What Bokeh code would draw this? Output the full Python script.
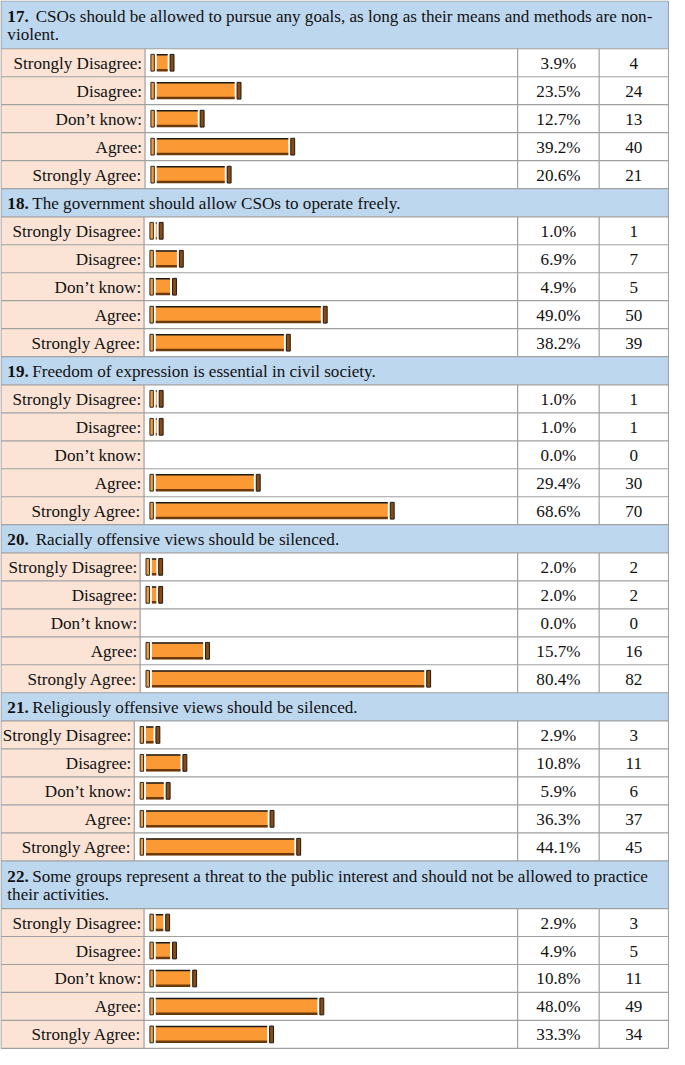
from bokeh.plotting import figure
from bokeh.models import Range1d
from bokeh.embed import file_html
from bokeh.resources import INLINE
from bokeh.core.properties import value

# ---------------- data ----------------
numbers = ["17.", "18.", "19.", "20.", "21.", "22."]
questions = [
    ["CSOs should be allowed to pursue any goals, as long as their means and methods are non-", "violent."],
    ["The government should allow CSOs to operate freely."],
    ["Freedom of expression is essential in civil society."],
    ["Racially offensive views should be silenced."],
    ["Religiously offensive views should be silenced."],
    ["Some groups represent a threat to the public interest and should not be allowed to practice", "their activities."],
]
double_space = [True, False, False, True, False, False]
categories = ["Strongly Disagree:", "Disagree:", "Don\u2019t know:", "Agree:", "Strongly Agree:"]
pct_17 = [3.9, 23.5, 12.7, 39.2, 20.6]
cnt_17 = [4, 24, 13, 40, 21]
pct_18 = [1.0, 6.9, 4.9, 49.0, 38.2]
cnt_18 = [1, 7, 5, 50, 39]
pct_19 = [1.0, 1.0, 0.0, 29.4, 68.6]
cnt_19 = [1, 1, 0, 30, 70]
pct_20 = [2.0, 2.0, 0.0, 15.7, 80.4]
cnt_20 = [2, 2, 0, 16, 82]
pct_21 = [2.9, 10.8, 5.9, 36.3, 44.1]
cnt_21 = [3, 11, 6, 37, 45]
pct_22 = [2.9, 4.9, 10.8, 48.0, 33.3]
cnt_22 = [3, 5, 11, 49, 34]
pcts = [pct_17, pct_18, pct_19, pct_20, pct_21, pct_22]
cnts = [cnt_17, cnt_18, cnt_19, cnt_20, cnt_21, cnt_22]

# ---------------- layout (reference pixel units) ----------------
label_edges = [148, 147, 147, 143, 137, 147]
X_LEFT, X_RIGHT = 0.5, 684.0
X_PCT, X_CNT = 529.5, 613.0
ROW_H, HDR1, HDR2 = 28.4, 28.6, 48.5
PX_PER_PCT = 3.5

FONT = value("Liberation Serif")
FS = "17.1px"
BLUE = "#BDD7EE"
PEACH = "#FBE4D5"
ORANGE = "#FB9A35"
GRID = "#A0A0A0"

p = figure(width=669, height=1049, x_range=Range1d(0, 685), y_range=Range1d(1065, 0),
           output_backend="svg", toolbar_location=None, min_border=0,
           x_axis_type=None, y_axis_type=None)
p.grid.visible = False
p.outline_line_color = None
p.background_fill_color = "white"
p.border_fill_color = "white"

hq = dict(l=[], r=[], t=[], b=[])
pq = dict(l=[], r=[], t=[], b=[])
hseg = dict(x0=[], x1=[], y0=[], y1=[])
vseg = dict(x0=[], x1=[], y0=[], y1=[])
num_txt = dict(x=[], y=[], t=[])
q_txt = dict(x=[], y=[], t=[])
lab_txt = dict(x=[], y=[], t=[])
pct_txt = dict(x=[], y=[], t=[])
cnt_txt = dict(x=[], y=[], t=[])
lc = dict(l=[], r=[], t=[], b=[])
body = dict(l=[], r=[], t=[], b=[])
rc = dict(l=[], r=[], t=[], b=[])
topline = dict(x0=[], x1=[], y0=[], y1=[])
botline = dict(x0=[], x1=[], y0=[], y1=[])

y = 0.5
for i in range(len(numbers)):
    lines = questions[i]
    hh = HDR2 if len(lines) > 1 else HDR1
    hq["l"].append(X_LEFT); hq["r"].append(X_RIGHT); hq["t"].append(y); hq["b"].append(y + hh)
    hseg["x0"].append(X_LEFT); hseg["x1"].append(X_RIGHT); hseg["y0"].append(y); hseg["y1"].append(y)
    if len(lines) == 1:
        ys = [y + hh / 2 + 0.5]
    else:
        ys = [y + 15.5, y + 34.5]
    num_txt["x"].append(7); num_txt["y"].append(ys[0]); num_txt["t"].append(numbers[i])
    q_txt["x"].append(36 if double_space[i] else 32.5); q_txt["y"].append(ys[0]); q_txt["t"].append(lines[0])
    for k in range(1, len(lines)):
        q_txt["x"].append(7); q_txt["y"].append(ys[k]); q_txt["t"].append(lines[k])
    y += hh
    edge = label_edges[i]
    top_rows = y
    for j in range(len(categories)):
        y0, y1 = y, y + ROW_H
        c = (y0 + y1) / 2
        pq["l"].append(X_LEFT); pq["r"].append(edge); pq["t"].append(y0); pq["b"].append(y1)
        hseg["x0"].append(X_LEFT); hseg["x1"].append(X_RIGHT); hseg["y0"].append(y0); hseg["y1"].append(y0)
        lab_txt["x"].append(edge - 3); lab_txt["y"].append(c + 0.5); lab_txt["t"].append(categories[j])
        pct_txt["x"].append((X_PCT + X_CNT) / 2); pct_txt["y"].append(c + 0.5); pct_txt["t"].append(f"{pcts[i][j]:.1f}%")
        cnt_txt["x"].append((X_CNT + X_RIGHT) / 2); cnt_txt["y"].append(c + 0.5); cnt_txt["t"].append(str(cnts[i][j]))
        v = pcts[i][j]
        if v > 0:
            x0 = edge + 6
            x1 = x0 + 10 + PX_PER_PCT * v
            lc["l"].append(x0); lc["r"].append(x0 + 3.5); lc["t"].append(c - 8.5); lc["b"].append(c + 8.5)
            rc["l"].append(x1 - 4); rc["r"].append(x1); rc["t"].append(c - 8.5); rc["b"].append(c + 8.5)
            body["l"].append(x0 + 6); body["r"].append(x1 - 6.5); body["t"].append(c - 8.5); body["b"].append(c + 8.5)
            topline["x0"].append(x0 + 6); topline["x1"].append(x1 - 6.5); topline["y0"].append(c - 8); topline["y1"].append(c - 8)
            botline["x0"].append(x0 + 6); botline["x1"].append(x1 - 6.5); botline["y0"].append(c + 7.5); botline["y1"].append(c + 7.5)
        y = y1
    for xv in (edge, X_PCT, X_CNT):
        vseg["x0"].append(xv); vseg["x1"].append(xv); vseg["y0"].append(top_rows); vseg["y1"].append(y)

hseg["x0"].append(X_LEFT); hseg["x1"].append(X_RIGHT); hseg["y0"].append(y); hseg["y1"].append(y)
vseg["x0"] += [X_LEFT, X_RIGHT]; vseg["x1"] += [X_LEFT, X_RIGHT]; vseg["y0"] += [0.5, 0.5]; vseg["y1"] += [y, y]

# cells
p.quad(left=hq["l"], right=hq["r"], top=hq["t"], bottom=hq["b"], fill_color=BLUE, line_color=None)
p.quad(left=pq["l"], right=pq["r"], top=pq["t"], bottom=pq["b"], fill_color=PEACH, line_color=None)

# bars
p.quad(left=body["l"], right=body["r"], top=body["t"], bottom=body["b"], fill_color=ORANGE, line_color=None)
p.segment(x0=topline["x0"], x1=topline["x1"], y0=topline["y0"], y1=topline["y1"], line_color="#1a1a1a", line_width=1.5)
p.segment(x0=botline["x0"], x1=botline["x1"], y0=botline["y0"], y1=botline["y1"], line_color="#6b3a08", line_width=2.5)
p.quad(left=lc["l"], right=lc["r"], top=lc["t"], bottom=lc["b"], fill_color=ORANGE, line_color="#2a2a2a", line_width=1)
p.quad(left=rc["l"], right=rc["r"], top=rc["t"], bottom=rc["b"], fill_color="#8a4a10", line_color="#1a1a1a", line_width=1)

# grid lines
p.segment(x0=hseg["x0"], x1=hseg["x1"], y0=hseg["y0"], y1=hseg["y1"], line_color=GRID, line_width=1.2)
p.segment(x0=vseg["x0"], x1=vseg["x1"], y0=vseg["y0"], y1=vseg["y1"], line_color=GRID, line_width=1.2)

# texts
common = dict(text_font=FONT, text_font_size=FS, text_color="#111111", text_baseline="middle")
p.text(x=num_txt["x"], y=num_txt["y"], text=num_txt["t"], text_align="left", text_font_style="bold", **common)
p.text(x=q_txt["x"], y=q_txt["y"], text=q_txt["t"], text_align="left", **common)
p.text(x=lab_txt["x"], y=lab_txt["y"], text=lab_txt["t"], text_align="right", **common)
p.text(x=pct_txt["x"], y=pct_txt["y"], text=pct_txt["t"], text_align="center", **common)
p.text(x=cnt_txt["x"], y=cnt_txt["y"], text=cnt_txt["t"], text_align="center", **common)

open("out.html", "w").write(file_html(p, INLINE))
